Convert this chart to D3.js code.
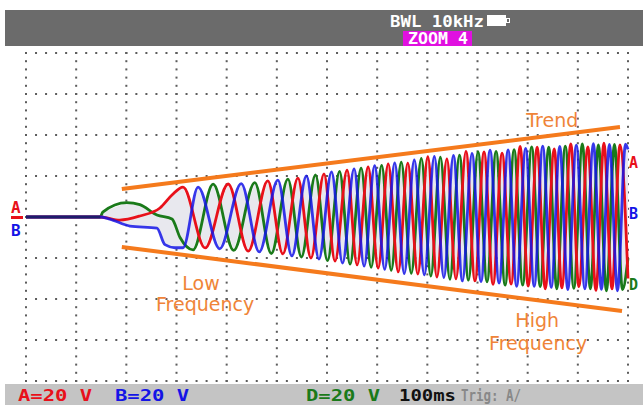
<!DOCTYPE html>
<html><head><meta charset="utf-8">
<script src="https://cdn.jsdelivr.net/npm/d3@7"></script>
<style>body{margin:0;background:#fff}svg{display:block}</style>
</head><body>
<script>
// ---- data (time in ms, 100 ms/div; voltage in V, 20 V/div) ----
const chA = [[0,0],[148,0],[187,-1.5],[227,0.5],[267,4.4],[291,10.7],[313,14.6],
 [357,-15.1],[403,16.1],[443,-16.6],[482,17.6],[512,-18],[542,19],[568,-20],[594,21],[616,-21.5],
 [640,22.9],[660,-23.4],[682,24.4],[702,-24.9],[722,25.9],[742,-26.8],[761,26.3],[781,-27.8],
 [801,29.5],[819,-29.3],[839,28.4],[857,-30.2],[877,32],[895,-31.2],[913,31.7],[931,-32.8],
 [949,31.2],[967,-32.7],[985,34.5],[1001,-33.7],[1019,34.1],[1035,-35],[1053,33.2],[1068,-34.6],
 [1086,35.6],[1102,-34],[1120,34.2],[1136,-35.8],[1152,36],[1168,-35.1],[1184,35.2],[1200,-30]];
const chB = [[0,0],[148,0],[167,-1],[207,-4.4],[261,-5.4],[277,-13.5],[297,-15],[313,-15],[343,14.6],
 [386,-15.5],[429,16.3],[465,-17],[502,18],[530,-19],[559,20],[584,-20.5],[609,22],[631,-22.5],
 [654,23.5],[674,-24],[695,25],[715,-25.5],[735,26.4],[754,-27.6],[774,27.8],[794,-28.2],[814,29.6],
 [833,-29.5],[852,30],[870,-31.2],[889,31],[907,-31.5],[925,32.6],[943,-32.2],[961,32.7],[978,-33.8],
 [996,33.5],[1013,-33.8],[1030,34.6],[1047,-34.3],[1064,34.5],[1080,-35.4],[1097,35],[1114,-35],
 [1131,35.8],[1147,-35.3],[1163,35.4],[1179,-36],[1195,35.5],[1200,33]];
const chD = [[0,0],[148,0],[153,2.4],[201,7],[227,6],[261,1],[291,-1],[307,-10],[333,-16],
 [373,16],[414,-16.3],[456,16.8],[489,-17.8],[522,18.5],[549,-19.5],[577,20.5],[601,-21.3],
 [625,22.3],[646,-23],[668,23.8],[688,-24.5],[709,25.2],[728,-26],[748,26.8],[768,-27.5],[788,28.6],
 [807,-28.8],[826,29.2],[845,-30.4],[864,30.2],[882,-30.8],[901,31.8],[919,-31.6],[937,32],
 [955,-33.2],[973,32.9],[990,-33.2],[1008,34.2],[1025,-33.9],[1042,34.1],[1058,-35],[1075,34.6],
 [1092,-34.8],[1109,35.6],[1125,-35],[1141,35.2],[1157,-36],[1173,35.4],[1189,-35.4],[1200,-20]];
const trendUpper = [[191,13.7],[1184,43.9]];
const trendLower = [[191,-14.6],[1188,-45.9]];
const annotations = [
  {text:"Trend", t:1049, v:44},
  {text:"Low", t:349, v:-35.6},
  {text:"Frequency", t:357, v:-45.9},
  {text:"High", t:1019, v:-53.7},
  {text:"Frequency", t:1021, v:-64.9}
];
const bottomTexts = [
  {text:"A=20 V", x:18, w:74, color:"#e8101a"},
  {text:"B=20 V", x:115, w:74, color:"#1414e6"},
  {text:"D=20 V", x:306, w:74, color:"#1a7a1a"},
  {text:"100ms", x:399, w:57, color:"#111"},
  {text:"Trig: A/", x:461, w:60, color:"#888"}
];
const topTexts = ["BWL 10kHz","ZOOM 4"];

const colors = {A:"#e8101a", B:"#1414e6", D:"#1a7a1a"};

const W = 643, H = 405;
const x = d3.scaleLinear().domain([0,1200]).range([26,628]);
const y = d3.scaleLinear().domain([-80,80]).range([381,53]);

const svg = d3.select("body").append("svg").attr("width",W).attr("height",H);
svg.append("rect").attr("width",W).attr("height",H).attr("fill","#fff");

// top and bottom bars
svg.append("rect").attr("x",5).attr("y",10).attr("width",W-5).attr("height",36).attr("fill","#6b6b6b");
svg.append("rect").attr("x",5).attr("y",384).attr("width",W-5).attr("height",21).attr("fill","#c4c4c4");

// grid dots
const gDots = svg.append("g").attr("fill","#5c5c5c");
const majorT = d3.range(0,1200.1,100), majorV = d3.range(-80,80.1,20);
majorT.forEach(t => d3.range(-80,80.1,4).forEach(v =>
  gDots.append("rect").attr("x",x(t)-1).attr("y",y(v)-1).attr("width",2).attr("height",2)));
majorV.forEach(v => d3.range(0,1200.1,20).forEach(t =>
  gDots.append("rect").attr("x",x(t)-1).attr("y",y(v)-1).attr("width",2).attr("height",2)));

// envelope fill
const chans = [chA,chB,chD];
const interp = chans.map(c => d3.scaleLinear().domain(c.map(d=>d[0])).range(c.map(d=>d[1])));
const ts = d3.range(148,1200.1,1);
const env = ts.map(t => { const vs = interp.map(f=>f(t)); return [t,d3.min(vs),d3.max(vs)]; });
svg.append("path").datum(env)
  .attr("d", d3.area().x(d=>x(d[0])).y0(d=>y(d[1])).y1(d=>y(d[2])))
  .attr("fill","#e8e8ee");

const line = d3.line().x(d=>x(d[0])).y(d=>y(d[1])).curve(d3.curveMonotoneX);
[[chD,"D",1],[chA,"A",1],[chB,"B",0.85]].forEach(([c,n,o]) =>
  svg.append("path").datum(c).attr("d",line).attr("fill","none")
    .attr("stroke",colors[n]).attr("stroke-width",2.8).attr("stroke-opacity",o)
    .attr("stroke-linejoin","round"));
// flat pre-trigger trace (overlapping channels appear dark navy)
svg.append("path").datum(chB.slice(0,2)).attr("d",line).attr("stroke","#1c1c6a").attr("stroke-width",2.4);

// trend lines
const tl = d3.line().x(d=>x(d[0])).y(d=>y(d[1]));
[trendUpper,trendLower].forEach(tr =>
  svg.append("path").datum(tr).attr("d",tl).attr("stroke","#f57a1c").attr("stroke-width",4).attr("fill","none"));

annotations.forEach(a => svg.append("text").attr("x",x(a.t)).attr("y",y(a.v))
  .attr("text-anchor","middle").attr("font-family","DejaVu Sans").attr("font-size",19)
  .attr("fill","#ef8438").text(a.text));

// channel markers
const mono = "DejaVu Sans Mono";
svg.append("text").attr("x",11).attr("y",213).attr("font-family",mono).attr("font-weight","bold")
  .attr("font-size",16).attr("fill",colors.A).text("A");
svg.append("rect").attr("x",11).attr("y",216).attr("width",12).attr("height",3).attr("fill",colors.A);
svg.append("text").attr("x",11).attr("y",236).attr("font-family",mono).attr("font-weight","bold")
  .attr("font-size",16).attr("fill",colors.B).text("B");
[["A",168],["B",219],["D",290]].forEach(([n,yy]) =>
  svg.append("text").attr("x",629).attr("y",yy).attr("font-family",mono).attr("font-weight","bold")
    .attr("font-size",15).attr("fill",colors[n]).text(n));

// top bar texts
svg.append("text").attr("x",390).attr("y",27).attr("font-family",mono).attr("font-weight","bold")
  .attr("font-size",16).attr("fill","#fff").attr("textLength",94).attr("lengthAdjust","spacingAndGlyphs").text(topTexts[0]);
svg.append("rect").attr("x",487).attr("y",15).attr("width",19).attr("height",11).attr("fill","#fff");
svg.append("rect").attr("x",506).attr("y",18).attr("width",4).attr("height",5).attr("fill","#fff");
svg.append("rect").attr("x",507).attr("y",19).attr("width",2).attr("height",3).attr("fill","#6b6b6b");
svg.append("rect").attr("x",403).attr("y",31).attr("width",69).attr("height",15).attr("fill","#e010e0");
svg.append("text").attr("x",408).attr("y",44).attr("font-family",mono).attr("font-weight","bold")
  .attr("font-size",15).attr("fill","#fff").attr("textLength",60).attr("lengthAdjust","spacingAndGlyphs").text(topTexts[1]);

// bottom bar texts
bottomTexts.forEach(b => svg.append("text").attr("x",b.x).attr("y",401)
  .attr("font-family",mono).attr("font-weight","bold").attr("font-size",16)
  .attr("fill",b.color).attr("textLength",b.w).attr("lengthAdjust","spacingAndGlyphs").text(b.text));
</script>
</body></html>
